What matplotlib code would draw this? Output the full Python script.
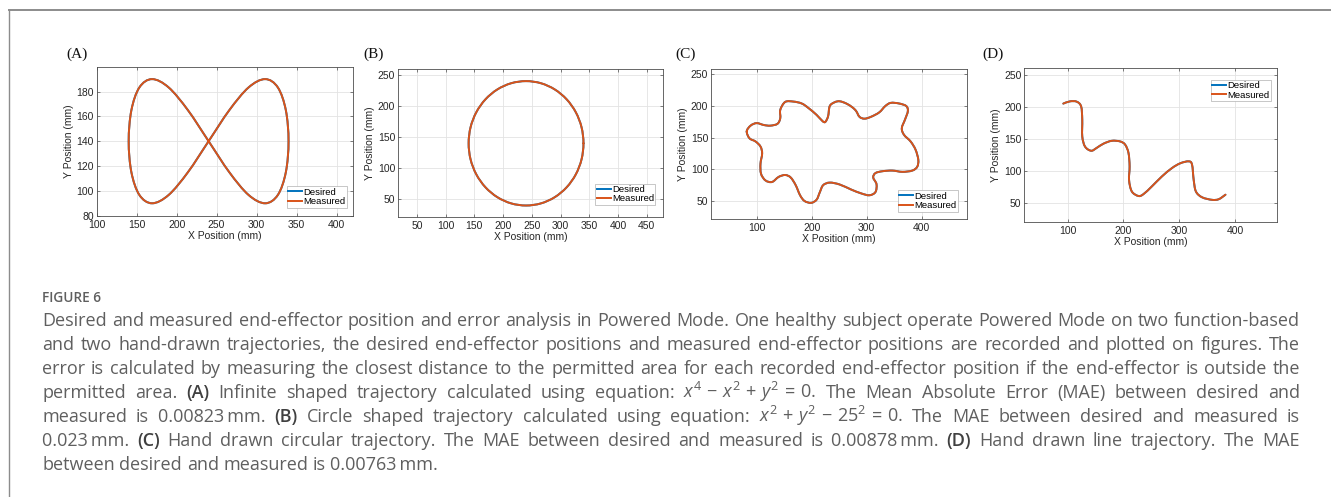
import matplotlib
matplotlib.use('Agg')
import matplotlib.pyplot as plt
from matplotlib.path import Path
from matplotlib.patches import PathPatch
from matplotlib.lines import Line2D

W, H = 1331, 497
DPI = 100

# ---------------- data ----------------
# (A) figure-eight trajectory
a_des_x = [240, 265.9, 290, 310.7, 326.6, 336.6, 340, 336.6, 326.6, 310.7, 290, 265.9,
           240, 214.1, 190, 169.3, 153.4, 143.4, 140, 143.4, 153.4, 169.3, 190, 214.1]
a_des_y = [140, 165, 183.3, 190, 183.3, 165, 140, 115, 96.7, 90, 96.7, 115,
           140, 165, 183.3, 190, 183.3, 165, 140, 115, 96.7, 90, 96.7, 115]
a_meas_x = list(a_des_x)
a_meas_y = list(a_des_y)

# (B) circle trajectory
b_des_x = [340, 336.6, 326.6, 310.7, 290, 265.9, 240, 214.1, 190, 169.3, 153.4, 143.4,
           140, 143.4, 153.4, 169.3, 190, 214.1, 240, 265.9, 290, 310.7, 326.6, 336.6]
b_des_y = [140, 165.9, 190, 210.7, 226.6, 236.6, 240, 236.6, 226.6, 210.7, 190, 165.9,
           140, 114.1, 90, 69.3, 53.4, 43.4, 40, 43.4, 53.4, 69.3, 90, 114.1]
b_meas_x = list(b_des_x)
b_meas_y = list(b_des_y)

# (C) hand-drawn closed trajectory
c_des_x = [82, 89, 100, 113, 125, 138, 143, 143, 152, 167, 182, 194, 209, 220, 225, 230,
           233, 242, 251, 263, 274, 281, 287, 296, 308, 323, 334, 344, 359, 372, 375, 370,
           364, 368, 380, 389, 394, 392, 383, 365, 347, 329, 316, 312, 318, 316, 305, 290,
           272, 251, 233, 221, 215, 209, 199, 187, 179, 171, 162, 152, 140, 128, 116, 108,
           107, 110, 107, 98, 87]
c_des_y = [160, 169, 173, 170, 169, 172, 181, 194, 206.5, 207, 204, 197, 186, 176, 175, 184,
           200, 206, 207.5, 204, 198, 192, 183, 180, 183, 190, 200, 205, 204, 200, 192, 179,
           165, 154.5, 144, 131, 115, 104, 98, 96, 98, 97, 94, 87, 76.5, 64, 59, 62,
           68, 76, 79, 75, 64, 52, 47, 50, 59, 75, 87, 91, 88, 80, 82.5, 93,
           109, 125, 136, 144, 149]
c_meas_x = list(c_des_x)
c_meas_y = list(c_des_y)

# (D) hand-drawn line trajectory
d_des_x = [92, 104, 116, 124, 126, 126, 131, 142, 152, 164, 179, 194, 203, 209, 211, 210,
           215, 227, 236, 251, 269, 287, 302, 317, 323, 326, 330, 341, 359, 371, 383]
d_des_y = [205, 208.5, 208, 200.6, 180, 154, 138, 131.5, 136, 142.5, 147, 146, 141, 128, 107, 86,
           68, 61, 64, 76, 91.5, 104.5, 112, 115, 110, 86, 68, 59, 55, 56, 63]
d_meas_x = list(d_des_x)
d_meas_y = list(d_des_y)

panel_names = ['(A)', '(B)', '(C)', '(D)']
series_names = ['Desired', 'Measured']
a_xticks = [100, 150, 200, 250, 300, 350, 400]
a_yticks = [80, 100, 120, 140, 160, 180]
b_xticks = [50, 100, 150, 200, 250, 300, 350, 400, 450]
b_yticks = [50, 100, 150, 200, 250]
cd_xticks = [100, 200, 300, 400]
cd_yticks = [50, 100, 150, 200, 250]

caption_title = 'FIGURE 6'
caption_lines = [
    'Desired and measured end-effector position and error analysis in Powered Mode. One healthy subject operate Powered Mode on two function-based',
    'and two hand-drawn trajectories, the desired end-effector positions and measured end-effector positions are recorded and plotted on figures. The',
    'error is calculated by measuring the closest distance to the permitted area for each recorded end-effector position if the end-effector is outside the',
    r'permitted area. **(A)** Infinite shaped trajectory calculated using equation: $x^4\,-\,x^2\,+\,y^2\,=\,0$. The Mean Absolute Error (MAE) between desired and',
    r'measured is 0.00823' + '\u2009' + r'mm. **(B)** Circle shaped trajectory calculated using equation: $x^2\,+\,y^2\,-\,25^2\,=\,0$. The MAE between desired and measured is',
    '0.023\u2009mm. **(C)** Hand drawn circular trajectory. The MAE between desired and measured is 0.00878\u2009mm. **(D)** Hand drawn line trajectory. The MAE',
    'between desired and measured is 0.00763\u2009mm.',
]

# ---------------- style ----------------
BLUE = '#0072BD'
ORANGE = '#D95319'
AX_FONT = ['Liberation Sans', 'DejaVu Sans']
CAP_FONT = ['Open Sans', 'DejaVu Sans']
CAP_COLOR = '#5f5f5f'

plt.rcParams['mathtext.fontset'] = 'custom'
plt.rcParams['mathtext.it'] = 'Open Sans:italic'
plt.rcParams['mathtext.rm'] = 'Open Sans'

fig = plt.figure(figsize=(W / DPI, H / DPI), dpi=DPI)
fig.patch.set_facecolor('white')


def rect(l, r, t, b):
    return [l / W, 1 - b / H, (r - l) / W, (b - t) / H]


def smooth_patch(xs, ys, closed, color, lw):
    pts = list(zip(xs, ys))
    n = len(pts)
    verts = [pts[0]]
    codes = [Path.MOVETO]
    nseg = n if closed else n - 1
    for i in range(nseg):
        p1 = pts[i]
        p2 = pts[(i + 1) % n]
        if closed:
            p0 = pts[(i - 1) % n]
            p3 = pts[(i + 2) % n]
        else:
            p0 = pts[i - 1] if i > 0 else p1
            p3 = pts[i + 2] if i + 2 < n else p2
        c1 = (p1[0] + (p2[0] - p0[0]) / 6, p1[1] + (p2[1] - p0[1]) / 6)
        c2 = (p2[0] - (p3[0] - p1[0]) / 6, p2[1] - (p3[1] - p1[1]) / 6)
        verts += [c1, c2, p2]
        codes += [Path.CURVE4] * 3
    return PathPatch(Path(verts, codes), facecolor='none', edgecolor=color,
                     lw=lw, capstyle='round', joinstyle='round')


panels = [
    dict(rect=rect(96.7, 353.3, 66.7, 215.7), xlim=(100, 421), ylim=(80, 200),
         xt=a_xticks, yt=a_yticks, des=(a_des_x, a_des_y), meas=(a_meas_x, a_meas_y),
         closed=True, loc='lower right', anchor=(0.975, 0.055), lab_x=66),
    dict(rect=rect(398, 663.3, 69.3, 216.7), xlim=(17, 479), ylim=(22, 259),
         xt=b_xticks, yt=b_yticks, des=(b_des_x, b_des_y), meas=(b_meas_x, b_meas_y),
         closed=True, loc='lower right', anchor=(0.97, 0.08), lab_x=363),
    dict(rect=rect(711, 966.7, 69, 219), xlim=(17, 482), ylim=(21.5, 258.5),
         xt=cd_xticks, yt=cd_yticks, des=(c_des_x, c_des_y), meas=(c_meas_x, c_meas_y),
         closed=True, loc='lower right', anchor=(0.965, 0.05), lab_x=675),
    dict(rect=rect(1024.3, 1277, 68.3, 222.3), xlim=(22, 475.5), ylim=(20, 260),
         xt=cd_xticks, yt=cd_yticks, des=(d_des_x, d_des_y), meas=(d_meas_x, d_meas_y),
         closed=False, loc='upper right', anchor=(0.975, 0.925), lab_x=982),
]

for name, p in zip(panel_names, panels):
    ax = fig.add_axes(p['rect'])
    ax.set_xlim(*p['xlim'])
    ax.set_ylim(*p['ylim'])
    ax.set_xticks(p['xt'])
    ax.set_yticks(p['yt'])
    ax.grid(True, color='#e3e3e3', lw=0.6)
    ax.set_axisbelow(True)
    for s in ax.spines.values():
        s.set_color('#4d4d4d')
        s.set_linewidth(0.6)
    ax.tick_params(direction='in', top=True, right=True, length=2.5, width=0.5,
                   color='#4d4d4d', labelsize=7.5, labelcolor='#262626')
    ax.tick_params(axis='x', pad=3)
    ax.tick_params(axis='y', pad=2)
    for lab in ax.get_xticklabels() + ax.get_yticklabels():
        lab.set_family(AX_FONT)
    ax.add_patch(smooth_patch(*p['des'], p['closed'], BLUE, 1.4))
    ax.add_patch(smooth_patch(*p['meas'], p['closed'], ORANGE, 1.4))
    ax.set_xlabel('X Position (mm)', fontsize=7.5, family=AX_FONT, labelpad=0.5, color='#262626')
    ax.set_ylabel('Y Position (mm)', fontsize=7.5, family=AX_FONT, labelpad=2, color='#262626')
    handles = [Line2D([], [], color=BLUE, lw=1.4), Line2D([], [], color=ORANGE, lw=1.4)]
    leg = ax.legend(handles, series_names, loc=p['loc'], bbox_to_anchor=p['anchor'],
                    prop={'family': AX_FONT, 'size': 6.8}, frameon=True, fancybox=False,
                    framealpha=1, edgecolor='#b0b0b0', borderpad=0.15, labelspacing=0.05,
                    handlelength=1.5, handletextpad=0.1, borderaxespad=0)
    leg.get_frame().set_linewidth(0.5)
    fig.text(p['lab_x'] / W, 1 - 54 / H, name, fontsize=11, family=['Liberation Serif', 'DejaVu Serif'],
             va='center', ha='left', color='#111111')

# ---------------- frame lines ----------------
fig.add_artist(Line2D([9 / W, 1], [1 - 10 / H, 1 - 10 / H], color='#8c8c8c', lw=1.4))
fig.add_artist(Line2D([9 / W, 9 / W], [0, 1 - 10 / H], color='#8c8c8c', lw=1.0))

# ---------------- caption ----------------
CAP_FS = 13.0
X0, X1 = 42, 1300
fig.text(X0 / W, 1 - 302 / H, caption_title, fontsize=9.8, family=CAP_FONT,
         color=CAP_COLOR, va='baseline', ha='left', weight='semibold')

renderer = fig.canvas.get_renderer()
probe1 = fig.text(0, 0, 'x x', fontsize=CAP_FS, family=CAP_FONT)
probe2 = fig.text(0, 0, 'xx', fontsize=CAP_FS, family=CAP_FONT)
space_w = probe1.get_window_extent(renderer).width - probe2.get_window_extent(renderer).width
probe1.remove()
probe2.remove()

for i, line in enumerate(caption_lines):
    y_px = 326 + 24 * i
    words = line.split(' ')
    texts = []
    for wd in words:
        bold = wd.startswith('**')
        s = wd.replace('**', '')
        t = fig.text(0, 1 - y_px / H, s, fontsize=CAP_FS, family=CAP_FONT,
                     weight='semibold' if bold else 'normal',
                     color='#404040' if bold else CAP_COLOR, va='baseline', ha='left')
        texts.append(t)
    widths = [t.get_window_extent(renderer).width for t in texts]
    last = (i == len(caption_lines) - 1)
    if last or len(texts) < 2:
        gap = space_w
    else:
        gap = (X1 - X0 - sum(widths)) / (len(texts) - 1)
    x = X0
    for t, w in zip(texts, widths):
        t.set_x(x / W)
        x += w + gap

fig.savefig('out.png', dpi=DPI, facecolor='white')
